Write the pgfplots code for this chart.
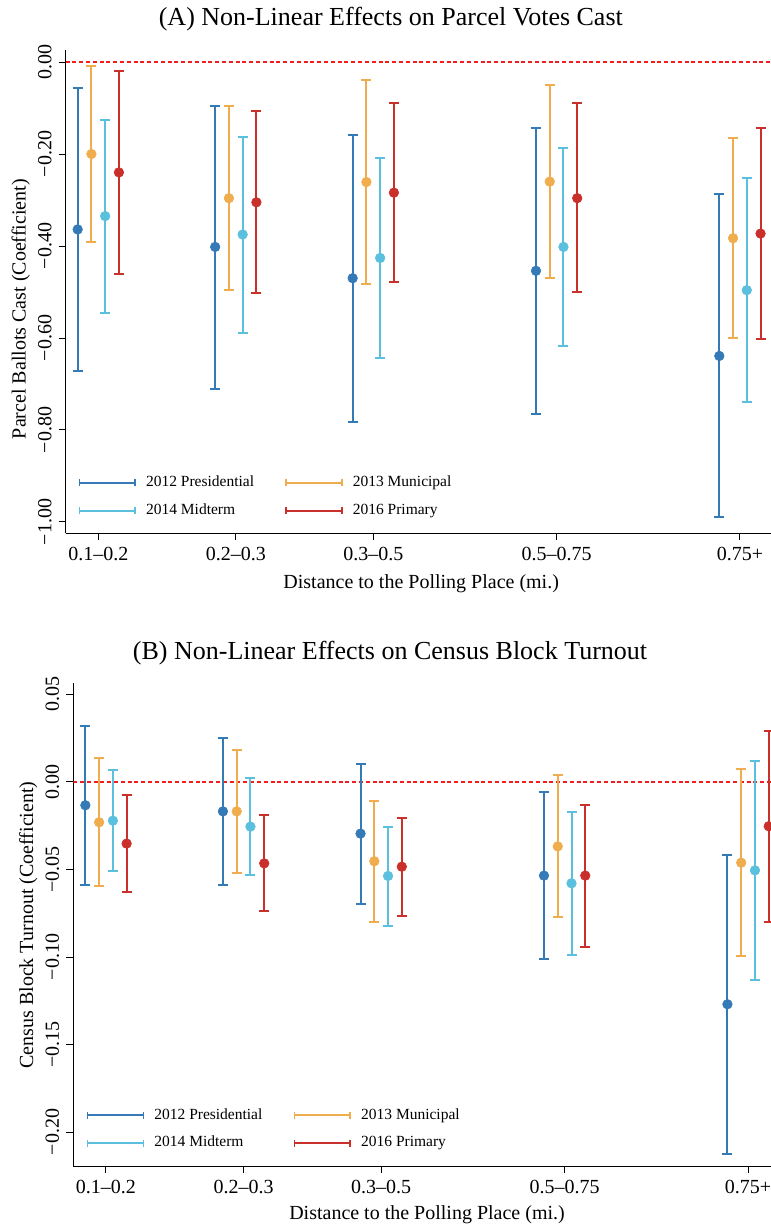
\documentclass[border=0pt]{standalone}
\usepackage{fontspec}
\setmainfont{Liberation Serif}
\usepackage{pgfplots}
\usepackage{pgfplotstable}
\pgfplotsset{compat=1.18}

\definecolor{c2012}{HTML}{337AB7}
\definecolor{c2013}{HTML}{F0AD4E}
\definecolor{c2014}{HTML}{5BC0DE}
\definecolor{c2016}{HTML}{C9302C}
\definecolor{zeroline}{HTML}{F01E1E}

% columns: g = group position, y = estimate, lo/hi = confidence bounds
% (A) parcel ballots cast
\pgfplotstableread{
g  y       lo      hi
0  -0.364  -0.672  -0.056
3  -0.402  -0.710  -0.096
6  -0.470  -0.782  -0.158
10 -0.454  -0.765  -0.144
14 -0.639  -0.990  -0.288
}\parA
\pgfplotstableread{
g  y       lo      hi
0  -0.200  -0.391  -0.008
3  -0.296  -0.496  -0.096
6  -0.261  -0.483  -0.040
10 -0.260  -0.470  -0.051
14 -0.383  -0.601  -0.166
}\parB
\pgfplotstableread{
g  y       lo      hi
0  -0.335  -0.545  -0.126
3  -0.375  -0.589  -0.162
6  -0.426  -0.643  -0.208
10 -0.402  -0.617  -0.186
14 -0.496  -0.740  -0.252
}\parC
\pgfplotstableread{
g  y       lo      hi
0  -0.240  -0.461  -0.020
3  -0.305  -0.503  -0.106
6  -0.284  -0.478  -0.089
10 -0.296  -0.501  -0.090
14 -0.373  -0.603  -0.144
}\parD
% (B) census block turnout
\pgfplotstableread{
g  y        lo       hi
0  -0.0133  -0.0589  0.0322
3  -0.0168  -0.0587  0.0253
6  -0.0295  -0.0697  0.0103
10 -0.0535  -0.1013  -0.0057
14 -0.1270  -0.2124  -0.0417
}\cenA
\pgfplotstableread{
g  y        lo       hi
0  -0.0230  -0.0596  0.0135
3  -0.0168  -0.0518  0.0183
6  -0.0453  -0.0798  -0.0107
10 -0.0368  -0.0773  0.0040
14 -0.0461  -0.0994  0.0074
}\cenB
\pgfplotstableread{
g  y        lo       hi
0  -0.0221  -0.0509  0.0069
3  -0.0255  -0.0533  0.0025
6  -0.0537  -0.0823  -0.0255
10 -0.0579  -0.0989  -0.0171
14 -0.0505  -0.1131  0.0118
}\cenC
\pgfplotstableread{
g  y        lo       hi
0  -0.0352  -0.0627  -0.0072
3  -0.0465  -0.0735  -0.0190
6  -0.0484  -0.0764  -0.0204
10 -0.0535  -0.0941  -0.0130
14 -0.0253  -0.0800  0.0290
}\cenD

\pgfplotsset{
  coefplot/.style={
    scale only axis, clip=true,
    axis x line*=bottom, axis y line*=left,
    axis line style={line width=0.5pt, black},
    tick align=outside, major tick length=3.5pt,
    every tick/.style={line width=0.5pt, black},
    xtick={0,3,6,10,14},
    xticklabels={0.1–0.2,0.2–0.3,0.3–0.5,0.5–0.75,0.75+},
    ticklabel style={font=\fontsize{10}{12}\selectfont},
    yticklabel style={rotate=90, anchor=south},
    label style={font=\fontsize{10}{12}\selectfont},
    every axis title shift=0pt,
    title style={font=\fontsize{13}{15}\selectfont, anchor=base},
    legend columns=2,
    legend cell align=left,
    legend style={draw=none, fill=none, inner sep=0pt, anchor=north west,
      font=\fontsize{7.75}{9}\selectfont, row sep=3pt,
      /tikz/every odd column/.append style={column sep=3pt},
      /tikz/every even column/.append style={column sep=13.5pt}},
  },
  est/.style={only marks, mark=*, color=#1,
    mark options={fill=#1, draw=#1, line width=0.3pt}, mark size=2.4pt,
    error bars/.cd, y dir=both, y explicit,
    error bar style={line width=1pt, color=#1},
    error mark options={rotate=90, mark size=2.5pt, line width=1pt, color=#1}},
  errleg/.style={legend image code/.code={
    \draw[#1, line width=1pt] (0pt,0pt) -- (27.85pt,0pt);
    \draw[#1, line width=0.8pt] (0pt,-1.75pt) -- (0pt,1.75pt);
    \draw[#1, line width=0.8pt] (27.85pt,-1.75pt) -- (27.85pt,1.75pt);}},
}

\newcommand{\coef}[3]{%
  \addplot[forget plot, est=#1] table[x expr=\thisrow{g}+#2, y=y,
    y error plus expr=\thisrow{hi}-\thisrow{y},
    y error minus expr=\thisrow{y}-\thisrow{lo}] {#3};}

\begin{document}
\begin{tikzpicture}

% (A)
\begin{axis}[coefplot,
  at={(32.85pt,-25pt)}, anchor=north west,
  width=352.65pt, height=241.65pt,
  xmin=-0.711, xmax=14.678, ymin=-1.0246, ymax=0.0261,
  ytick={-1,-0.8,-0.6,-0.4,-0.2,0},
  yticklabels={−1.00,−0.80,−0.60,−0.40,−0.20,0.00},
  title={(A) Non-Linear Effects on Parcel Votes Cast},
  title style={at={(axis description cs:0.461,1.0517)}, anchor=base},
  xlabel={Distance to the Polling Place (mi.)},
  xlabel style={at={(axis description cs:0.504,-0.1138)}, anchor=base},
  ylabel={Parcel Ballots Cast (Coefficient)},
  ylabel style={at={(axis description cs:-0.0638,0.464)}, anchor=center},
  legend style={at={(axis description cs:0.0174,0.1275)}},
]
\addplot[forget plot, zeroline, line width=0.6pt, dash pattern=on 2pt off 1.4pt]
  coordinates {(-0.711,0) (14.678,0)};
\coef{c2012}{-0.45}{\parA}
\coef{c2013}{-0.15}{\parB}
\coef{c2014}{0.15}{\parC}
\coef{c2016}{0.45}{\parD}
\addlegendimage{errleg=c2012}
\addlegendimage{errleg=c2013}
\addlegendimage{errleg=c2014}
\addlegendimage{errleg=c2016}
\legend{2012 Presidential,2013 Municipal,2014 Midterm,2016 Primary}
\end{axis}

% (B)
\begin{axis}[coefplot,
  at={(36.65pt,-341.35pt)}, anchor=north west,
  width=348.85pt, height=241.65pt,
  xmin=-0.713, xmax=14.50, ymin=-0.2194, ymax=0.0567,
  ytick={-0.2,-0.15,-0.1,-0.05,0,0.05},
  yticklabels={−0.20,−0.15,−0.10,−0.05,0.00,0.05},
  title={(B) Non-Linear Effects on Census Block Turnout},
  title style={at={(axis description cs:0.454,1.047)}, anchor=base},
  xlabel={Distance to the Polling Place (mi.)},
  xlabel style={at={(axis description cs:0.507,-0.1117)}, anchor=base},
  ylabel={Census Block Turnout (Coefficient)},
  ylabel style={at={(axis description cs:-0.0645,0.4987)}, anchor=center},
  legend style={at={(axis description cs:0.0186,0.1283)}},
]
\addplot[forget plot, zeroline, line width=0.6pt, dash pattern=on 2pt off 1.4pt]
  coordinates {(-0.713,0) (14.50,0)};
\coef{c2012}{-0.45}{\cenA}
\coef{c2013}{-0.15}{\cenB}
\coef{c2014}{0.15}{\cenC}
\coef{c2016}{0.45}{\cenD}
\addlegendimage{errleg=c2012}
\addlegendimage{errleg=c2013}
\addlegendimage{errleg=c2014}
\addlegendimage{errleg=c2016}
\legend{2012 Presidential,2013 Municipal,2014 Midterm,2016 Primary}
\end{axis}

\pgfresetboundingbox
\useasboundingbox (0pt,0pt) rectangle (385.5pt,-614pt);
\end{tikzpicture}
\end{document}
